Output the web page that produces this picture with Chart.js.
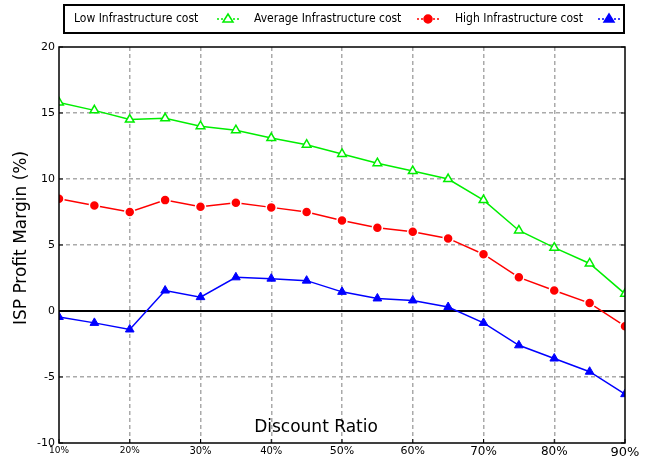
<!DOCTYPE html>
<html lang="en">
<head>
    <meta charset="UTF-8">
    <title>ISP Profit Margin</title>
    <script src="https://cdn.jsdelivr.net/npm/chart.js@4.4.1/dist/chart.umd.min.js"></script>
    <style>
        html, body { margin: 0; padding: 0; background: #fff; }
        #wrap { width: 649px; height: 462px; }
    </style>
</head>
<body>
<div id="wrap"><canvas id="chart" width="649" height="462"></canvas></div>
<script>
    // discount ratio (%) every 5 points
    const discount = [10, 15, 20, 25, 30, 35, 40, 45, 50, 55, 60, 65, 70, 75, 80, 85, 90];
    const lowCost = [15.8, 15.2, 14.5, 14.6, 14.0, 13.7, 13.1, 12.6, 11.9, 11.2, 10.6, 10.0, 8.4, 6.1, 4.8, 3.6, 1.3];
    const avgCost = [8.5, 8.0, 7.5, 8.4, 7.9, 8.2, 7.85, 7.5, 6.85, 6.3, 6.0, 5.5, 4.3, 2.55, 1.55, 0.6, -1.15];
    const highCost = [-0.45, -0.9, -1.4, 1.55, 1.05, 2.55, 2.45, 2.3, 1.45, 0.95, 0.8, 0.3, -0.9, -2.6, -3.6, -4.6, -6.3];
    const seriesNames = ["Low Infrastructure cost", "Average Infrastructure cost", "High Infrastructure cost"];
    const xTicks = [10, 20, 30, 40, 50, 60, 70, 80, 90];
    const yTicks = [-10, -5, 0, 5, 10, 15, 20];

    const FONT = "'DejaVu Sans', sans-serif";
    const toPts = vals => vals.map((v, i) => ({ x: discount[i], y: v }));

    // frame, inward ticks, zero line, axis titles and boxed legend
    const decorations = {
        id: "decorations",
        beforeDatasetsDraw(chart) {
            const { ctx, chartArea: a, scales: { y } } = chart;
            ctx.save();
            ctx.strokeStyle = "#000";
            ctx.lineWidth = 2;
            const y0 = y.getPixelForValue(0);
            ctx.beginPath();
            ctx.moveTo(a.left, y0);
            ctx.lineTo(a.right, y0);
            ctx.stroke();
            ctx.restore();
        },
        afterDatasetsDraw(chart) {
            const { ctx, chartArea: a, scales: { x, y } } = chart;
            ctx.save();
            ctx.strokeStyle = "#000";
            ctx.lineWidth = 1.5;
            ctx.strokeRect(a.left, a.top, a.right - a.left, a.bottom - a.top);
            ctx.lineWidth = 1;
            yTicks.forEach(t => {
                const py = y.getPixelForValue(t);
                ctx.beginPath();
                ctx.moveTo(a.left, py); ctx.lineTo(a.left + 4, py);
                ctx.moveTo(a.right, py); ctx.lineTo(a.right - 4, py);
                ctx.stroke();
            });
            xTicks.forEach(t => {
                const px = x.getPixelForValue(t);
                ctx.beginPath();
                ctx.moveTo(px, a.bottom); ctx.lineTo(px, a.bottom - 4);
                ctx.stroke();
            });

            ctx.fillStyle = "#000";
            ctx.font = "17px " + FONT;
            ctx.textAlign = "center";
            ctx.textBaseline = "middle";
            ctx.fillText("Discount Ratio", 316, 428);

            ctx.save();
            ctx.translate(22, 238);
            ctx.rotate(-Math.PI / 2);
            ctx.fillText("ISP Profit Margin (%)", 0, 0);
            ctx.restore();

            // legend box
            ctx.lineWidth = 2;
            ctx.strokeRect(64, 5, 560, 28);
            ctx.font = "12px 'DejaVu Sans Condensed', 'DejaVu Sans', sans-serif";
            ctx.textAlign = "left";
            const textX = [74, 254, 455];
            const markX = [228, 428, 609];
            chart.data.datasets.forEach((ds, i) => {
                ctx.fillStyle = "#000";
                ctx.fillText(seriesNames[i], textX[i], 19);
                ctx.strokeStyle = ds.borderColor;
                ctx.lineWidth = 1.5;
                ctx.setLineDash([2, 2]);
                ctx.beginPath();
                ctx.moveTo(markX[i] - 11, 19); ctx.lineTo(markX[i] + 11, 19);
                ctx.stroke();
                ctx.setLineDash([]);
                ctx.fillStyle = ds.pointBackgroundColor;
                ctx.beginPath();
                if (ds.pointStyle === "circle") {
                    ctx.arc(markX[i], 19, 4, 0, Math.PI * 2);
                } else {
                    ctx.moveTo(markX[i], 14); ctx.lineTo(markX[i] + 5, 22); ctx.lineTo(markX[i] - 5, 22); ctx.closePath();
                }
                ctx.fill();
                ctx.stroke();
            });
            ctx.restore();
        }
    };

    new Chart(document.getElementById("chart"), {
        type: "line",
        data: {
            datasets: [{
                label: seriesNames[0],
                data: toPts(lowCost),
                borderColor: "#00ee00",
                borderWidth: 1.5,
                pointStyle: "triangle",
                pointRadius: 5,
                pointBackgroundColor: "#ffffff",
                pointBorderColor: "#00ee00",
                pointBorderWidth: 1.5
            }, {
                label: seriesNames[1],
                data: toPts(avgCost),
                borderColor: "#ff0000",
                borderWidth: 1.5,
                pointStyle: "circle",
                pointRadius: 5,
                pointBackgroundColor: "#ff0000",
                pointBorderColor: "#ffffff",
                pointBorderWidth: 1.5
            }, {
                label: seriesNames[2],
                data: toPts(highCost),
                borderColor: "#0000ff",
                borderWidth: 1.5,
                pointStyle: "triangle",
                pointRadius: 5,
                pointBackgroundColor: "#0000ff",
                pointBorderColor: "#0000ff",
                pointBorderWidth: 1
            }]
        },
        options: {
            responsive: false,
            animation: false,
            layout: { padding: { top: 47, right: 24, left: 0, bottom: 0 } },
            plugins: { legend: { display: false }, tooltip: { enabled: false } },
            scales: {
                x: {
                    type: "linear",
                    min: 10, max: 90,
                    afterBuildTicks: s => { s.ticks = xTicks.map(v => ({ value: v })); },
                    afterFit: s => { s.height = 19; },
                    grid: {
                        color: ctx => (ctx.tick && (ctx.tick.value === 10 || ctx.tick.value === 90)) ? "rgba(0,0,0,0)" : "#aaaaaa",
                        lineWidth: 1.5,
                        drawTicks: false
                    },
                    border: { display: false, dash: [4, 3] },
                    ticks: {
                        color: "#000",
                        padding: 2,
                        maxRotation: 0,
                        font: ctx => ({ family: FONT, size: 9 + Math.round(ctx.index * 0.45) }),
                        callback: v => v + "%"
                    }
                },
                y: {
                    min: -10, max: 20,
                    afterBuildTicks: s => { s.ticks = yTicks.map(v => ({ value: v })); },
                    afterFit: s => { s.width = 59; },
                    grid: {
                        color: ctx => (ctx.tick && [-10, 0, 20].includes(ctx.tick.value)) ? "rgba(0,0,0,0)" : "#aaaaaa",
                        lineWidth: 1.5,
                        drawTicks: false
                    },
                    border: { display: false, dash: [4, 3] },
                    ticks: {
                        color: "#000",
                        padding: 4,
                        font: { family: FONT, size: 11 }
                    }
                }
            }
        },
        plugins: [decorations]
    });
</script>
</body>
</html>
